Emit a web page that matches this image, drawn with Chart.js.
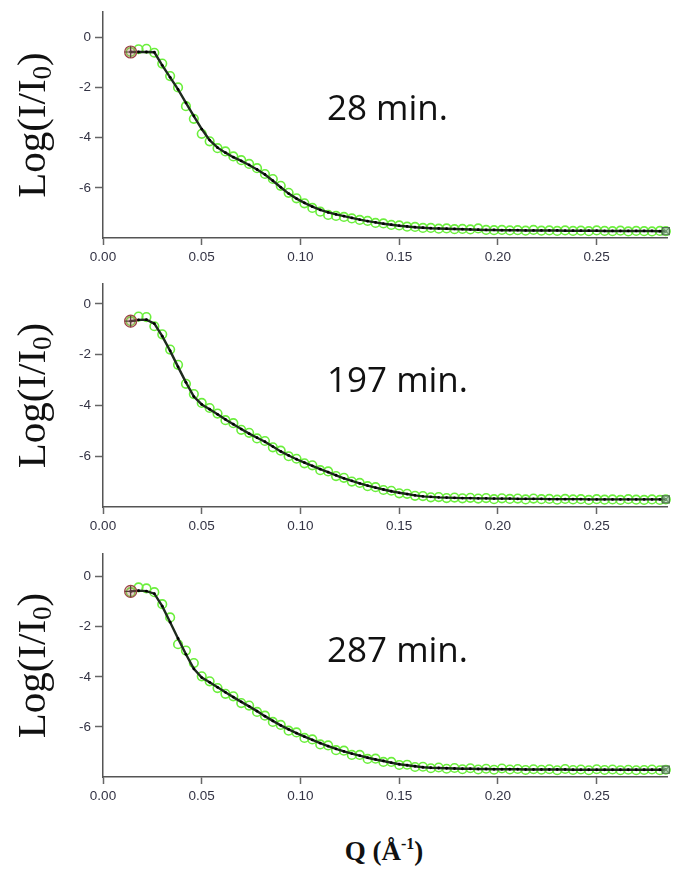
<!DOCTYPE html>
<html>
<head>
<meta charset="utf-8">
<script src="https://cdn.jsdelivr.net/npm/chart.js@4.4.1/dist/chart.umd.min.js"></script>
<style>
  body { margin: 0; background: #fff; width: 675px; height: 872px; position: relative; overflow: hidden; }
  canvas { position: absolute; left: 0; }
  #qlabel { position: absolute; left: 284px; width: 200px; top: 836px; text-align: center;
            font: bold 27px "Liberation Serif", serif; line-height: 30px; color: #111; }
  #qlabel sup { font-size: 16px; vertical-align: baseline; position: relative; top: -11px; }
</style>
</head>
<body>
<canvas id="p1" width="675" height="272" style="top:0"></canvas>
<canvas id="p2" width="675" height="270" style="top:272px"></canvas>
<canvas id="p3" width="675" height="270" style="top:542px"></canvas>
<div id="qlabel">Q (Å<sup>-1</sup>)</div>

<script>
// Q values (Å-1)
const q = [
  0.014, 0.018, 0.022, 0.026, 0.030, 0.034, 0.038, 0.042, 0.046, 0.050,
  0.054, 0.058, 0.062, 0.066, 0.070, 0.074, 0.078, 0.082, 0.086, 0.090,
  0.094, 0.098, 0.102, 0.106, 0.110, 0.114, 0.118, 0.122, 0.126, 0.130,
  0.134, 0.138, 0.142, 0.146, 0.150, 0.154, 0.158, 0.162, 0.166, 0.170,
  0.174, 0.178, 0.182, 0.186, 0.190, 0.194, 0.198, 0.202, 0.206, 0.210,
  0.214, 0.218, 0.222, 0.226, 0.230, 0.234, 0.238, 0.242, 0.246, 0.250,
  0.254, 0.258, 0.262, 0.266, 0.270, 0.274, 0.278, 0.282, 0.285
];

// 28 min.
const fit28 = [
  -0.59, -0.59, -0.59, -0.60, -1.12, -1.60, -2.08, -2.62, -3.14, -3.66,
  -4.10, -4.40, -4.60, -4.78, -4.93, -5.09, -5.27, -5.47, -5.72, -5.98,
  -6.23, -6.43, -6.60, -6.75, -6.88, -6.98, -7.06, -7.13, -7.20, -7.27,
  -7.33, -7.38, -7.43, -7.47, -7.51, -7.54, -7.57, -7.59, -7.61, -7.62,
  -7.63, -7.64, -7.65, -7.66, -7.67, -7.68, -7.68, -7.69, -7.69, -7.69,
  -7.70, -7.70, -7.70, -7.70, -7.70, -7.71, -7.71, -7.71, -7.71, -7.71,
  -7.72, -7.72, -7.72, -7.72, -7.72, -7.72, -7.72, -7.73, -7.73
];
const obs28 = [
  -0.59, -0.48, -0.46, -0.62, -1.05, -1.55, -2.00, -2.75, -3.25, -3.85,
  -4.15, -4.42, -4.55, -4.75, -4.90, -5.05, -5.22, -5.45, -5.65, -5.92,
  -6.20, -6.42, -6.62, -6.80, -6.95, -7.08, -7.12, -7.16, -7.22, -7.28,
  -7.32, -7.40, -7.42, -7.48, -7.50, -7.55, -7.56, -7.60, -7.60, -7.63,
  -7.62, -7.65, -7.64, -7.66, -7.62, -7.68, -7.69, -7.68, -7.70, -7.69,
  -7.71, -7.68, -7.71, -7.70, -7.72, -7.70, -7.72, -7.71, -7.73, -7.70,
  -7.72, -7.73, -7.71, -7.74, -7.72, -7.73, -7.74, -7.72, -7.73
];

// 197 min.
const fit197 = [
  -0.68, -0.63, -0.62, -0.78, -1.27, -1.85, -2.48, -3.09, -3.65, -3.96,
  -4.15, -4.35, -4.55, -4.74, -4.93, -5.11, -5.27, -5.43, -5.62, -5.81,
  -5.97, -6.12, -6.25, -6.38, -6.51, -6.63, -6.75, -6.87, -6.97, -7.07,
  -7.16, -7.24, -7.31, -7.38, -7.44, -7.49, -7.54, -7.58, -7.60, -7.62,
  -7.63, -7.64, -7.65, -7.65, -7.66, -7.66, -7.67, -7.67, -7.67, -7.68,
  -7.68, -7.68, -7.68, -7.69, -7.69, -7.69, -7.69, -7.69, -7.70, -7.70,
  -7.70, -7.70, -7.70, -7.70, -7.70, -7.70, -7.70, -7.70, -7.70
];
const obs197 = [
  -0.68, -0.50, -0.52, -0.88, -1.20, -1.80, -2.40, -3.15, -3.55, -3.90,
  -4.10, -4.32, -4.58, -4.70, -4.96, -5.08, -5.30, -5.40, -5.65, -5.78,
  -6.00, -6.10, -6.28, -6.36, -6.55, -6.60, -6.78, -6.85, -7.00, -7.05,
  -7.18, -7.22, -7.33, -7.36, -7.46, -7.48, -7.56, -7.57, -7.62, -7.61,
  -7.65, -7.63, -7.66, -7.64, -7.67, -7.65, -7.69, -7.66, -7.68, -7.67,
  -7.70, -7.67, -7.69, -7.68, -7.71, -7.68, -7.70, -7.69, -7.72, -7.69,
  -7.71, -7.70, -7.72, -7.69, -7.71, -7.72, -7.70, -7.72, -7.70
];

// 287 min.
const fit287 = [
  -0.59, -0.56, -0.58, -0.68, -1.18, -1.82, -2.47, -3.10, -3.68, -4.03,
  -4.22, -4.42, -4.62, -4.81, -5.00, -5.18, -5.37, -5.57, -5.76, -5.94,
  -6.10, -6.25, -6.39, -6.52, -6.65, -6.77, -6.88, -6.98, -7.07, -7.15,
  -7.23, -7.30, -7.36, -7.43, -7.49, -7.53, -7.57, -7.61, -7.63, -7.64,
  -7.65, -7.66, -7.67, -7.67, -7.68, -7.68, -7.69, -7.69, -7.69, -7.69,
  -7.70, -7.70, -7.70, -7.70, -7.70, -7.70, -7.71, -7.71, -7.71, -7.71,
  -7.71, -7.71, -7.71, -7.71, -7.71, -7.71, -7.71, -7.71, -7.71
];
const obs287 = [
  -0.62, -0.43, -0.47, -0.62, -1.10, -1.63, -2.70, -2.95, -3.45, -3.98,
  -4.18, -4.45, -4.68, -4.78, -5.05, -5.15, -5.40, -5.55, -5.80, -5.92,
  -6.15, -6.22, -6.44, -6.50, -6.70, -6.74, -6.93, -6.95, -7.12, -7.12,
  -7.28, -7.27, -7.40, -7.40, -7.52, -7.51, -7.60, -7.59, -7.65, -7.62,
  -7.67, -7.64, -7.69, -7.65, -7.70, -7.67, -7.71, -7.66, -7.70, -7.68,
  -7.72, -7.69, -7.71, -7.69, -7.73, -7.68, -7.72, -7.70, -7.73, -7.69,
  -7.72, -7.70, -7.73, -7.71, -7.73, -7.72, -7.70, -7.73, -7.71
];

const xTicks = [0.00, 0.05, 0.10, 0.15, 0.20, 0.25];
const yTicks = [0, -2, -4, -6];

// texte dans le graphique : temps + titre de l'axe Y
const panelText = {
  id: "panelText",
  afterDraw(chart, args, opts) {
    const ctx = chart.ctx;
    const a = chart.chartArea;
    ctx.save();
    ctx.fillStyle = "#111";
    ctx.textBaseline = "alphabetic";
    ctx.font = '35px "Open Sans"';
    ctx.fillText(opts.label, 327, 120);

    const cy = (a.top + a.bottom) / 2;
    ctx.translate(45, cy);
    ctx.rotate(-Math.PI / 2);
    const big = '41px "Liberation Serif"';
    const small = '27px "Liberation Serif"';
    ctx.font = big;
    const w1 = ctx.measureText("Log(I/I").width;
    const w3 = ctx.measureText(")").width;
    ctx.font = small;
    const w2 = ctx.measureText("0").width;
    let x = -(w1 + w2 + w3) / 2;
    ctx.font = big;
    ctx.fillText("Log(I/I", x, 0);
    x += w1;
    ctx.font = small;
    ctx.fillText("0", x, 6);
    x += w2;
    ctx.font = big;
    ctx.fillText(")", x, 0);
    ctx.restore();
  }
};

function makePanel(id, fit, obs, yMax, label, padTop, xHeight) {
  const fitPts = q.map((v, i) => ({ x: v, y: fit[i] }));
  const obsPts = q.map((v, i) => ({ x: v, y: obs[i] }));
  const last = q.length - 1;
  const curA = [{ x: q[0], y: fit[0] }];
  const curB = [{ x: q[last], y: fit[last] }];

  new Chart(document.getElementById(id), {
    type: "scatter",
    data: {
      datasets: [
        { data: curA, pointStyle: "circle", pointRadius: 6, borderColor: "#9b4545",
          backgroundColor: "rgba(190,110,110,0.35)", borderWidth: 1.2, order: 0, clip: false },
        { data: curA, pointStyle: "cross", pointRadius: 6, borderColor: "#222",
          borderWidth: 1.2, order: 0, clip: false },
        { data: curB, pointStyle: "rect", pointRadius: 5, borderColor: "#4f6f4f",
          backgroundColor: "rgba(150,200,150,0.5)", borderWidth: 1.2, order: 0, clip: false },
        { data: curB, pointStyle: "crossRot", pointRadius: 5, borderColor: "#4f6f4f",
          borderWidth: 1.2, order: 0, clip: false },
        { data: fitPts, showLine: true, borderColor: "#1e2a1e", borderWidth: 2.4,
          pointRadius: 1.4, pointBackgroundColor: "#000", pointBorderWidth: 0, order: 1 },
        { data: obsPts, pointStyle: "circle", pointRadius: 4.3, borderColor: "#6bef3c",
          backgroundColor: "rgba(0,0,0,0)", borderWidth: 1.6, order: 2, clip: false }
      ]
    },
    options: {
      responsive: false,
      animation: false,
      devicePixelRatio: 1,
      layout: { padding: { top: padTop, left: 0, right: 0, bottom: 0 } },
      plugins: { legend: { display: false }, tooltip: { enabled: false }, panelText: { label: label } },
      scales: {
        x: {
          type: "linear", min: 0, max: 0.286,
          afterBuildTicks: (s) => { s.ticks = xTicks.map((v) => ({ value: v })); },
          afterFit: (s) => { s.height = xHeight; },
          ticks: { callback: (v) => v.toFixed(2), color: "#333344", padding: 4,
                   font: { family: "Liberation Sans", size: 13.5 }, maxRotation: 0 },
          grid: { drawOnChartArea: false, tickLength: 7, color: "#666", tickWidth: 1.5 },
          border: { color: "#555", width: 1.5 }
        },
        y: {
          min: -8, max: yMax,
          afterBuildTicks: (s) => { s.ticks = yTicks.map((v) => ({ value: v })); },
          afterFit: (s) => { s.width = 103; },
          ticks: { callback: (v) => String(v), color: "#333344", padding: 4,
                   font: { family: "Liberation Sans", size: 13.5 } },
          grid: { drawOnChartArea: false, tickLength: 8, color: "#666", tickWidth: 1.5 },
          border: { color: "#555", width: 1.5 }
        }
      }
    },
    plugins: [panelText]
  });
}

makePanel("p1", fit28, obs28, 1.0, "28 min.", 8, 34);
makePanel("p2", fit197, obs197, 0.78, "197 min.", 11, 35);
makePanel("p3", fit287, obs287, 0.9, "287 min.", 8, 35);
</script>
</body>
</html>
